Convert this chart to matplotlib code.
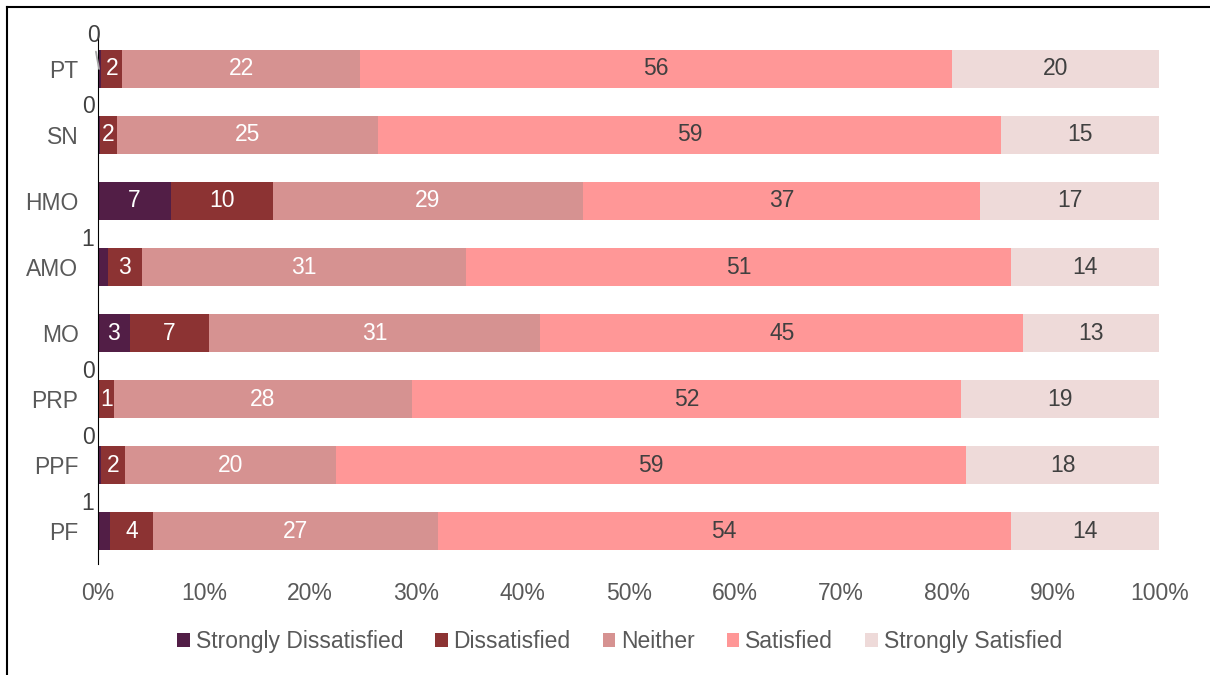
import matplotlib.pyplot as plt
import numpy as np
from matplotlib.lines import Line2D

plt.rcParams['font.family'] = ['Liberation Sans', 'DejaVu Sans']

# dados (percentuais)
categories = ['PT', 'SN', 'HMO', 'AMO', 'MO', 'PRP', 'PPF', 'PF']
strongly_dissatisfied = [0.3, 0.2, 6.9, 0.9, 3.0, 0.1, 0.3, 1.1]
dissatisfied = [2.0, 1.6, 9.6, 3.2, 7.4, 1.4, 2.2, 4.1]
neither = [22.4, 24.6, 29.2, 30.6, 31.2, 28.1, 19.9, 26.8]
satisfied = [55.8, 58.7, 37.4, 51.3, 45.4, 51.7, 59.4, 54.0]
strongly_satisfied = [19.5, 14.9, 16.9, 14.0, 12.8, 18.7, 18.2, 14.0]

series_names = ['Strongly Dissatisfied', 'Dissatisfied', 'Neither', 'Satisfied', 'Strongly Satisfied']
colors = ['#521E46', '#8C3333', '#D69291', '#FF9797', '#EEDAD9']
label_colors = ['white', 'white', 'white', '#404040', '#404040']

data = np.array([strongly_dissatisfied, dissatisfied, neither, satisfied, strongly_satisfied])
pct = data / data.sum(axis=0) * 100

fs = 16.5

fig = plt.figure(figsize=(12.1, 6.75), dpi=100)
ax = fig.add_axes([0.081, 0.1644, 0.877, 0.7823])

y = np.arange(len(categories))
left = np.zeros(len(categories))
for i, name in enumerate(series_names):
    ax.barh(y, pct[i], left=left, height=0.58, color=colors[i], label=name)
    for j in range(len(categories)):
        val = data[i, j]
        w = pct[i, j]
        txt = str(int(round(val)))
        if i == 0 and w < 2:
            # rótulo fora da barra, acima à esquerda
            if j == 0:
                ax.annotate(txt, xy=(0.1, y[j]), xytext=(-6, 33),
                            textcoords='offset pixels', ha='center', va='center',
                            fontsize=fs, color='#404040', zorder=5,
                            arrowprops=dict(arrowstyle='-', color='#A6A6A6', lw=1.3,
                                            shrinkA=1, shrinkB=0))
            else:
                ax.annotate(txt, xy=(0, y[j]), xytext=(-10, 28),
                            textcoords='offset pixels', ha='center', va='center',
                            fontsize=fs, color='#404040')
        else:
            ax.text(left[j] + w / 2, y[j], txt, ha='center', va='center',
                    fontsize=fs, color=label_colors[i])
    left += pct[i]

ax.set_xlim(0, 100)
ax.set_ylim(len(categories) - 0.5, -0.5)
ax.set_yticks(y)
ax.set_yticklabels(categories)
ax.set_xticks(np.arange(0, 101, 10))
ax.set_xticklabels([f'{v}%' for v in range(0, 101, 10)])
ax.tick_params(axis='both', length=0, labelsize=fs, labelcolor='#595959')
ax.tick_params(axis='y', pad=14)
ax.tick_params(axis='x', pad=13)
for s in ['top', 'right', 'bottom']:
    ax.spines[s].set_visible(False)
ax.spines['left'].set_color('black')

leg = fig.legend(loc='center', bbox_to_anchor=(0.512, 0.049), ncol=5, frameon=False,
                 fontsize=fs, handlelength=0.55, handleheight=0.55, handletextpad=0.25,
                 columnspacing=1.4)
for t in leg.get_texts():
    t.set_color('#595959')

# borda do gráfico
fig.add_artist(Line2D([0.006, 0.006], [0, 0.99], transform=fig.transFigure, color='black', lw=1.5))
fig.add_artist(Line2D([0.006, 1], [0.99, 0.99], transform=fig.transFigure, color='black', lw=1.5))

fig.savefig('out.png', dpi=100)
